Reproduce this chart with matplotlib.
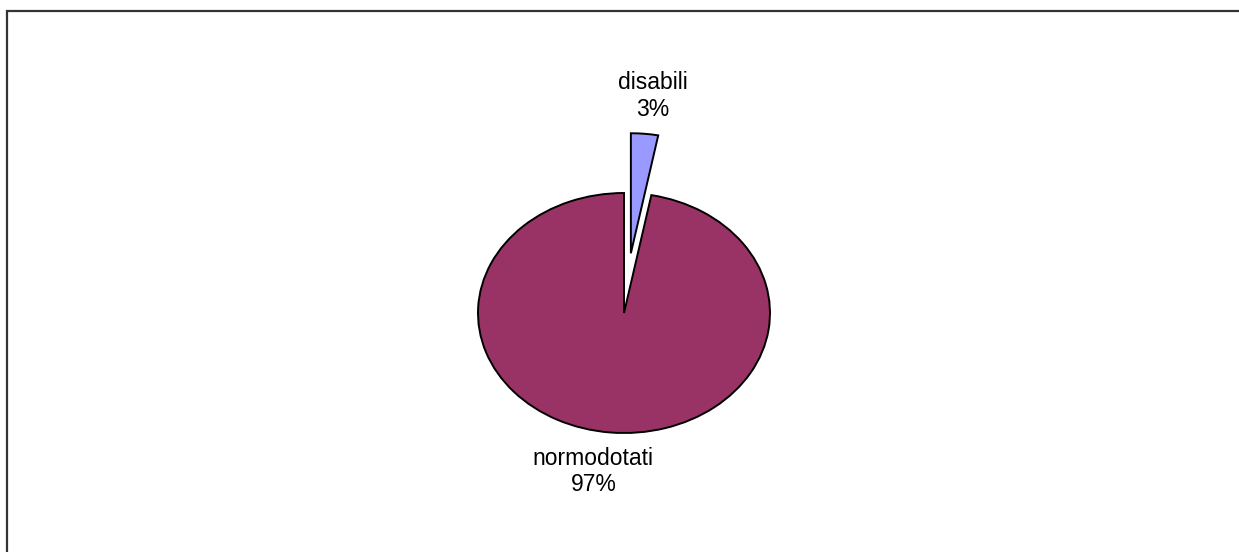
import matplotlib.pyplot as plt
from matplotlib.patches import Rectangle

labels = ["disabili", "normodotati"]
values = [3, 97]
colors = ["#9999FF", "#993366"]
explode = [0.5, 0.0]
label_pos = [(0.2, 1.81), (-0.21, -1.32)]

W, H = 1239, 552
fig = plt.figure(figsize=(W / 100, H / 100), dpi=100)

# outer frame, runs off the right and bottom edge
fig.patches.append(Rectangle((7 / W, -0.05), 1.1, (H - 11) / H + 0.05,
                             transform=fig.transFigure, fill=False,
                             edgecolor="#333333", linewidth=1.6))

# pie is an ellipse: 292 px wide, 240 px tall, centred on (624, 313)
ax = fig.add_axes([478 / W, (H - 433) / H, 292 / W, 240 / H])
wedges, _ = ax.pie(values, colors=colors, explode=explode, startangle=90,
                   counterclock=False, radius=1,
                   wedgeprops=dict(edgecolor="black", linewidth=1.4))
for w in wedges:
    w.set_clip_on(False)
ax.set_aspect("auto")
ax.set_xlim(-1, 1)
ax.set_ylim(-1, 1)
ax.axis("off")

for lab, v, (x, y) in zip(labels, values, label_pos):
    ax.text(x, y, f"{lab}\n{v}%", ha="center", va="center",
            fontsize=16.5, family="Liberation Sans", linespacing=1.2,
            clip_on=False)

fig.savefig("out.png", dpi=100)
